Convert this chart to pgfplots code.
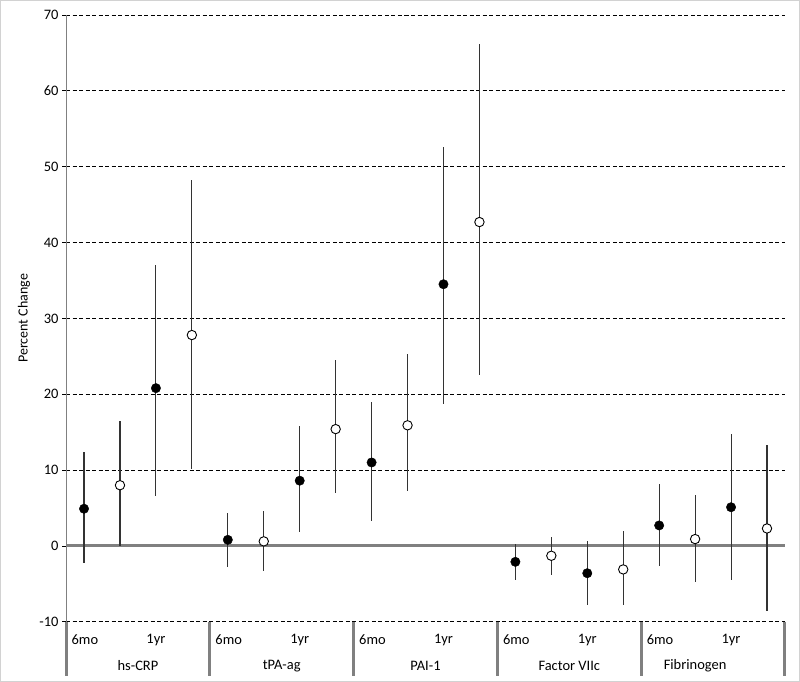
\documentclass[border=0pt]{standalone}
\usepackage{pgfplots}
\pgfplotsset{compat=1.18}
\usepackage{pgfplotstable}
\usepackage{fontspec}
\setmainfont{Carlito}

% x y lo hi  (6mo / 1yr, filled = one arm, open = other arm)
\pgfplotstableread{
x    y     lo    hi
0.5  4.9   -2.2  12.4
2.5  20.8   6.6  37.0
4.5  0.8   -2.8   4.4
6.5  8.6    1.8  15.8
8.5  11.0   3.3  19.0
10.5 34.5  18.7  52.6
12.5 -2.1  -4.5   0.2
14.5 -3.6  -7.8   0.7
16.5 2.7   -2.7   8.1
18.5 5.1   -4.5  14.8
}\filled
\pgfplotstableread{
x    y     lo    hi
1.5  8.0    0.0  16.5
3.5  27.8  10.1  48.3
5.5  0.6   -3.3   4.6
7.5  15.4   7.0  24.5
9.5  15.9   7.2  25.3
11.5 42.7  22.5  66.2
13.5 -1.3  -3.8   1.2
15.5 -3.1  -7.8   2.0
17.5 0.9   -4.8   6.7
19.5 2.3   -8.6  13.3
}\open

\begin{document}
\begin{tikzpicture}[x=1bp,y=1bp]
\begin{axis}[
  scale only axis, width=718bp, height=606bp,
  xmin=0, xmax=20, ymin=-10, ymax=70,
  ytick={-10,0,...,70}, xtick=\empty,
  axis x line=none, axis y line=left,
  y axis line style={-, gray, line width=1bp},
  tick align=outside, major tick length=4bp,
  ytick style={black, line width=0.8bp},
  ymajorgrids, major grid style={black, line width=0.8bp, dash pattern=on 4bp off 2.5bp},
  tick label style={font=\fontsize{14.5}{16}\selectfont},
  /pgf/number format/assume math mode=true,
  ylabel={Percent Change},
  ylabel style={font=\fontsize{14}{16}\selectfont, at={(rel axis cs:-0.0585,0.5)}, anchor=center, rotate=0},
  clip=false,
  error bars/y dir=both, error bars/y explicit,
  error bars/error mark=none,
  error bars/error bar style={black!80, line width=1.1bp},
]
\draw[gray, line width=3bp] (axis cs:0,0) -- (axis cs:20,0);
\addplot[only marks, mark=*, mark size=4.7bp, mark options={fill=black, draw=black}]
  table[x=x, y=y, y error plus expr=\thisrow{hi}-\thisrow{y}, y error minus expr=\thisrow{y}-\thisrow{lo}] {\filled};
\addplot[only marks, mark=*, mark size=4.7bp, mark options={fill=white, draw=black, line width=0.9bp}]
  table[x=x, y=y, y error plus expr=\thisrow{hi}-\thisrow{y}, y error minus expr=\thisrow{y}-\thisrow{lo}] {\open};
% category table under the plot
\pgfplotsinvokeforeach{0,4,8,12,16,20}{
  \draw[gray, line width=3bp] (axis cs:#1,-10) -- (axis cs:#1,-17.1);
}
\pgfplotsinvokeforeach{0,4,8,12,16}{
  \node[anchor=west, font=\fontsize{14.5}{16}\selectfont, inner sep=0pt] at (axis cs:#1+0.15,-12.4) {6mo};
  \node[font=\fontsize{14.5}{16}\selectfont, inner sep=0pt] at (axis cs:#1+2.5,-12.4) {1yr};
}
\node[font=\fontsize{14.5}{16}\selectfont] at (axis cs:2,-15.8) {hs-CRP};
\node[font=\fontsize{14.5}{16}\selectfont] at (axis cs:6,-15.8) {tPA-ag};
\node[font=\fontsize{14.5}{16}\selectfont] at (axis cs:10,-15.8) {PAI-1};
\node[font=\fontsize{14.5}{16}\selectfont] at (axis cs:14,-15.8) {Factor VIIc};
\node[font=\fontsize{14.5}{16}\selectfont] at (axis cs:17.5,-15.8) {Fibrinogen};
% figure frame
\draw[gray!35, line width=1bp] (rel axis cs:-0.0912,-0.0982) rectangle (rel axis cs:1.0202,1.0239);
\end{axis}
\end{tikzpicture}
\end{document}
